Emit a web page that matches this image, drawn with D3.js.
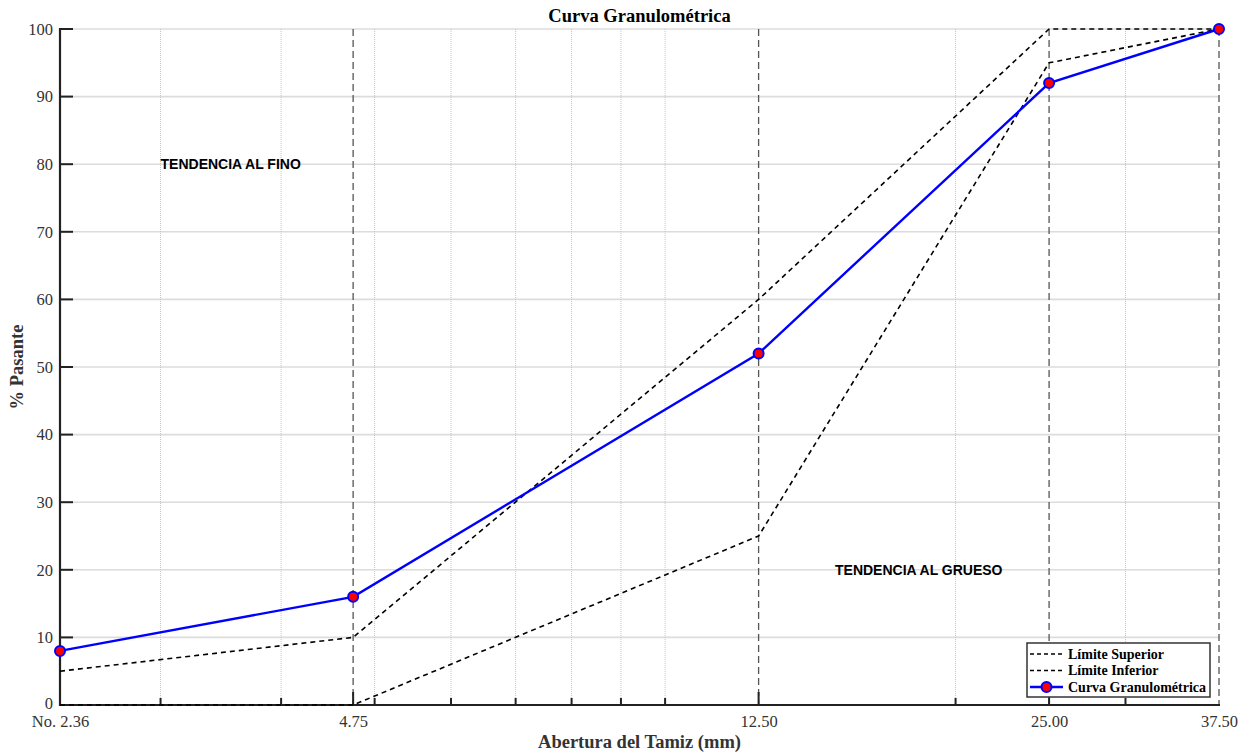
<!DOCTYPE html>
<html><head><meta charset="utf-8">
<script src="https://cdn.jsdelivr.net/npm/d3@7"></script>
<style>body{margin:0;background:#fff}svg{display:block}</style>
</head><body>
<svg id="c" width="1251" height="753"></svg>
<script>
const sieves = [2.36, 4.75, 12.5, 25, 37.5];
const sieveLabels = ["No. 2.36", "4.75", "12.50", "25.00", "37.50"];
const limiteSuperior = [5, 10, 60, 100, 100];
const limiteInferior = [0, 0, 25, 95, 100];
const curva = [8, 16, 52, 92, 100];
const minorTicks = [3, 4, 5, 6, 7, 8, 9, 10, 20, 30];
const yTicks = [0, 10, 20, 30, 40, 50, 60, 70, 80, 90, 100];
const annotations = [
  {text: "TENDENCIA AL FINO", x: 3.0, y: 80},
  {text: "TENDENCIA AL GRUESO", x: 15.0, y: 20}
];

const svg = d3.select("#c");
const L = 60, R = 1219, T = 29, B = 705;
const x = d3.scaleLog().domain([2.36, 37.5]).range([L, R]);
const y = d3.scaleLinear().domain([0, 100]).range([B, T]);
const serif = "'Liberation Serif','Times New Roman',serif";
const sans = "'Liberation Sans',Arial,sans-serif";

// horizontal grid
svg.append("g").selectAll("line").data(yTicks.filter(d => d > 0)).join("line")
  .attr("x1", L).attr("x2", R).attr("y1", d => y(d)).attr("y2", d => y(d))
  .attr("stroke", "#dcdcdc").attr("stroke-width", 1.6);
// minor vertical grid
svg.append("g").selectAll("line").data(minorTicks).join("line")
  .attr("x1", d => x(d)).attr("x2", d => x(d)).attr("y1", T).attr("y2", B)
  .attr("stroke", "#c4c4c4").attr("stroke-width", 1).attr("stroke-dasharray", "1,1");
// major vertical dashed
svg.append("g").selectAll("line").data(sieves.slice(1)).join("line")
  .attr("x1", d => x(d)).attr("x2", d => x(d)).attr("y1", T).attr("y2", B)
  .attr("stroke", "#555").attr("stroke-width", 1.3).attr("stroke-dasharray", "7,4");

// axes
const xAxis = d3.axisBottom(x).tickValues(sieves).tickFormat((d, i) => sieveLabels[i]).tickSize(0).tickPadding(10.5);
const gx = svg.append("g").attr("transform", `translate(0,${B})`).call(xAxis);
gx.select(".domain").remove();
gx.selectAll("text").attr("font-family", serif).attr("font-size", 16.5).attr("fill", "#333");
const yAxis = d3.axisLeft(y).tickValues(yTicks).tickSize(0).tickPadding(7);
const gy = svg.append("g").attr("transform", `translate(${L},0)`).call(yAxis);
gy.select(".domain").remove();
gy.selectAll("text").attr("font-family", serif).attr("font-size", 16.5).attr("fill", "#333")
  .attr("y", d => d === 0 ? -2 : 0);

// tick marks (inward)
svg.append("g").selectAll("line").data(yTicks).join("line")
  .attr("x1", L).attr("x2", L + 13).attr("y1", d => y(d)).attr("y2", d => y(d))
  .attr("stroke", "#222").attr("stroke-width", 2);
svg.append("g").selectAll("line").data(sieves.slice(1, 4)).join("line")
  .attr("x1", d => x(d)).attr("x2", d => x(d)).attr("y1", B).attr("y2", B - 13)
  .attr("stroke", "#222").attr("stroke-width", 2);
svg.append("g").selectAll("line").data(minorTicks).join("line")
  .attr("x1", d => x(d)).attr("x2", d => x(d)).attr("y1", B).attr("y2", B - 7)
  .attr("stroke", "#222").attr("stroke-width", 2);
svg.append("line").attr("x1", L).attr("x2", L).attr("y1", T - 1).attr("y2", B + 1).attr("stroke", "#222").attr("stroke-width", 2.2);
svg.append("line").attr("x1", L - 1).attr("x2", R + 1).attr("y1", B).attr("y2", B).attr("stroke", "#222").attr("stroke-width", 2.2);

// lines
const line = d3.line().x(d => x(d[0])).y(d => y(d[1]));
const sup = sieves.map((s, i) => [s, limiteSuperior[i]]);
const inf = sieves.map((s, i) => [s, limiteInferior[i]]);
const cur = sieves.map((s, i) => [s, curva[i]]);
svg.append("path").attr("d", line(sup)).attr("fill", "none").attr("stroke", "#000").attr("stroke-width", 1.6).attr("stroke-dasharray", "5,4");
svg.append("path").attr("d", line(inf)).attr("fill", "none").attr("stroke", "#000").attr("stroke-width", 1.6).attr("stroke-dasharray", "5,4");
svg.append("path").attr("d", line(cur)).attr("fill", "none").attr("stroke", "#0000ff").attr("stroke-width", 2.4);
svg.append("g").selectAll("circle").data(cur).join("circle")
  .attr("cx", d => x(d[0])).attr("cy", d => y(d[1])).attr("r", 5)
  .attr("fill", "#ff0000").attr("stroke", "#0000ff").attr("stroke-width", 2);

// annotations
svg.append("g").selectAll("text").data(annotations).join("text")
  .attr("x", d => x(d.x)).attr("y", d => y(d.y)).attr("dy", "0.36em")
  .attr("font-family", sans).attr("font-weight", "bold").attr("font-size", 14).attr("fill", "#000")
  .text(d => d.text);

// titles
svg.append("text").attr("x", (L + R) / 2).attr("y", 22).attr("text-anchor", "middle")
  .attr("font-family", serif).attr("font-weight", "bold").attr("font-size", 18.5).text("Curva Granulométrica");
svg.append("text").attr("x", (L + R) / 2).attr("y", 748).attr("text-anchor", "middle")
  .attr("font-family", serif).attr("font-weight", "bold").attr("font-size", 18.5).attr("fill", "#333").text("Abertura del Tamiz (mm)");
svg.append("text").attr("transform", `translate(23,${(T + B) / 2}) rotate(-90)`).attr("text-anchor", "middle")
  .attr("font-family", serif).attr("font-weight", "bold").attr("font-size", 18.5).attr("fill", "#333").text("% Pasante");

// legend
const lg = svg.append("g").attr("transform", "translate(1027,643)");
lg.append("rect").attr("width", 183).attr("height", 54).attr("fill", "#fff").attr("stroke", "#333").attr("stroke-width", 1.5);
const items = [
  {name: "Límite Superior", type: "dash"},
  {name: "Límite Inferior", type: "dash"},
  {name: "Curva Granulométrica", type: "curve"}
];
items.forEach((it, i) => {
  const yy = 11 + i * 16.5;
  const ln = lg.append("line").attr("x1", 3).attr("x2", 36).attr("y1", yy).attr("y2", yy);
  if (it.type === "dash") ln.attr("stroke", "#000").attr("stroke-width", 1.5).attr("stroke-dasharray", "4,3");
  else {
    ln.attr("stroke", "#0000ff").attr("stroke-width", 2.4);
    lg.append("circle").attr("cx", 19.5).attr("cy", yy).attr("r", 5).attr("fill", "#ff0000").attr("stroke", "#0000ff").attr("stroke-width", 2);
  }
  lg.append("text").attr("x", 41).attr("y", yy).attr("dy", "0.35em")
    .attr("font-family", serif).attr("font-weight", "bold").attr("font-size", 14).text(it.name);
});
</script>
</body></html>
